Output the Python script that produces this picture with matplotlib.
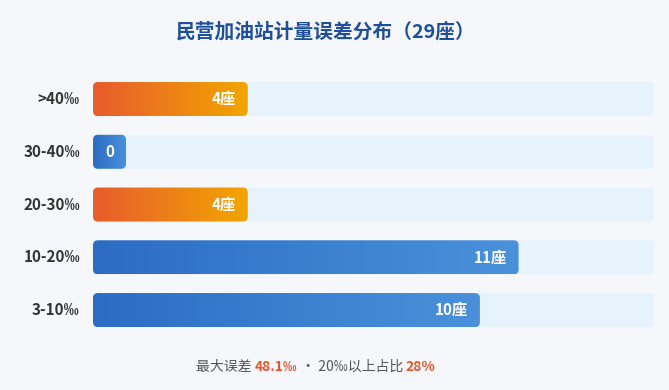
import numpy as np
import matplotlib.pyplot as plt
from matplotlib.patches import FancyBboxPatch
from matplotlib.colors import LinearSegmentedColormap

plt.rcParams['font.family'] = ['Noto Sans CJK SC', 'DejaVu Sans']

# data
categories = ['>40‰', '30-40‰', '20-30‰', '10-20‰', '3-10‰']
counts = [4, 0, 4, 11, 10]
high_risk = [True, False, True, False, False]
total = 29
max_err = '48.1‰'
share_over20 = '28%'

BG = '#f5f7fb'
TRACK = '#e6f3fc'
orange_cmap = LinearSegmentedColormap.from_list('o', ['#e85b2d', '#f2a600'])
blue_cmap = LinearSegmentedColormap.from_list('b', ['#2c6cc4', '#4a91da'])

fig = plt.figure(figsize=(6.69, 3.90), dpi=100, facecolor=BG)
# axes spans track area: x 93..654 px, rows centred at 99..310 px
ax = fig.add_axes([93 / 669, 0.1374, 561 / 669, 0.6763])
ax.set_facecolor(BG)
xmax = total / 2
ax.set_xlim(0, xmax)
ax.set_ylim(len(categories) - 0.5, -0.5)
ax.axis('off')

px_x = xmax / 561.0          # data units per pixel, x
px_y = 5 / 263.75            # data units per pixel, y
aspect = px_y / px_x
bar_h = 34 * px_y
rad = 5 * px_x
min_w = 33 * px_x

grad = np.linspace(0, 1, 256).reshape(1, -1)

for i, (cat, v, hot) in enumerate(zip(categories, counts, high_risk)):
    y0 = i - bar_h / 2
    track = FancyBboxPatch((0, y0), xmax, bar_h,
                           boxstyle=f'round,pad=0,rounding_size={rad}',
                           mutation_aspect=aspect, fc=TRACK, ec='none')
    ax.add_patch(track)
    w = max(v, min_w)
    box = FancyBboxPatch((0, y0), w, bar_h,
                         boxstyle=f'round,pad=0,rounding_size={rad}',
                         mutation_aspect=aspect, fc='none', ec='none')
    ax.add_patch(box)
    im = ax.imshow(grad, cmap=orange_cmap if hot else blue_cmap, aspect='auto',
                   extent=(0, w, y0 + bar_h, y0), interpolation='bilinear', zorder=2)
    im.set_clip_path(box)
    if v > 0:
        ax.text(w - 12 * px_x, i, f'{v}座', ha='right', va='center',
                color='white', fontsize=11, fontweight='bold', zorder=3)
    else:
        ax.text(w / 2, i, '0', ha='center', va='center',
                color='white', fontsize=11, fontweight='bold', zorder=3)
    ax.text(-13 * px_x, i, cat, ha='right', va='center',
            color='#333333', fontsize=11, fontweight='bold')

ax.set_xlim(0, xmax)
ax.set_ylim(len(categories) - 0.5, -0.5)

fig.text(326 / 669, 1 - 32 / 390, f'民营加油站计量误差分布（{total}座）', ha='center', va='center',
         fontsize=14.2, fontweight='bold', color='#1f4f9c')

# footer with mixed colours
parts = [('最大误差 ', '#555555', 'normal'), (max_err, '#e8552b', 'bold'),
         (' · 20‰以上占比 ', '#555555', 'normal'), (share_over20, '#e8552b', 'bold')]
r = fig.canvas.get_renderer()
texts = []
for s, c, wt in parts:
    t = fig.text(0, 1 - 367 / 390, s, ha='left', va='center', fontsize=10,
                 color=c, fontweight=wt)
    texts.append(t)
widths = [t.get_window_extent(r).width for t in texts]
x = 316 - sum(widths) / 2
for t, wd in zip(texts, widths):
    t.set_x(x / 669)
    x += wd

fig.savefig('out.png', dpi=100, facecolor=BG)
